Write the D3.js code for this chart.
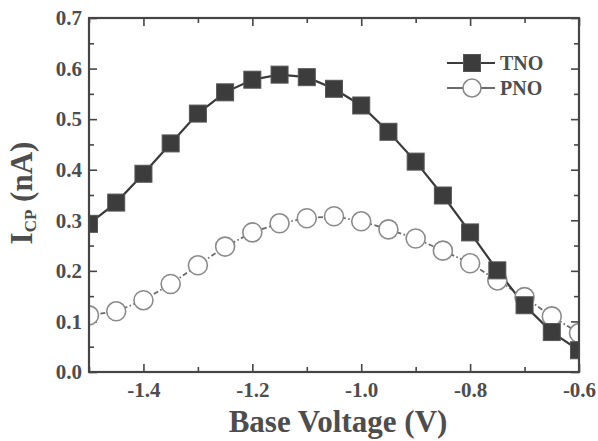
<!DOCTYPE html>
<html>
<head>
<meta charset="utf-8">
<script src="https://cdn.jsdelivr.net/npm/d3@7"></script>
<style>
body { margin: 0; background: #fff; }
svg { display: block; }
</style>
</head>
<body>
<svg id="chart" width="598" height="441"></svg>
<script>
const voltages = [-1.5, -1.45, -1.4, -1.35, -1.3, -1.25, -1.2, -1.15, -1.1, -1.05, -1.0, -0.95, -0.9, -0.85, -0.8, -0.75, -0.7, -0.65, -0.6];
const tnoValues = [0.293, 0.335, 0.392, 0.452, 0.511, 0.553, 0.578, 0.588, 0.583, 0.560, 0.527, 0.475, 0.416, 0.349, 0.276, 0.201, 0.132, 0.079, 0.043];
const pnoValues = [0.112, 0.120, 0.142, 0.174, 0.211, 0.248, 0.276, 0.294, 0.304, 0.308, 0.298, 0.282, 0.264, 0.240, 0.215, 0.181, 0.148, 0.110, 0.077];
const xMajorTicks = [-1.4, -1.2, -1.0, -0.8, -0.6];
const xMinorTicks = [-1.5, -1.3, -1.1, -0.9, -0.7];
const yMajorTicks = [0.0, 0.1, 0.2, 0.3, 0.4, 0.5, 0.6, 0.7];
const yMinorTicks = [0.05, 0.15, 0.25, 0.35, 0.45, 0.55, 0.65];
const seriesNames = ["TNO", "PNO"];

const svg = d3.select("#chart");
const L = 89, R = 579, T = 18, B = 372;
const x = d3.scaleLinear().domain([-1.5, -0.6]).range([L, R]);
const y = d3.scaleLinear().domain([0, 0.7]).range([B, T]);
const textColor = "#4d4d4d";
const axisColor = "#454545";
const font = "'Liberation Serif', 'Times New Roman', serif";

svg.append("defs").append("clipPath").attr("id", "plotclip")
  .append("rect").attr("x", L).attr("y", T).attr("width", R - L).attr("height", B - T);

function styleAxis(g) {
  g.select(".domain").remove();
  g.selectAll(".tick line").attr("stroke", axisColor).attr("stroke-width", 1.6);
  g.selectAll(".tick text").attr("fill", textColor).attr("font-family", font)
    .attr("font-weight", "bold").attr("font-size", 21);
}
const fmt = d => d3.format(".1f")(d).replace("\u2212", "-");

// bottom
svg.append("g").attr("transform", `translate(0,${B})`)
  .call(d3.axisBottom(x).tickValues(xMajorTicks).tickSize(-8).tickPadding(10).tickFormat(fmt))
  .call(styleAxis);
svg.append("g").attr("transform", `translate(0,${B})`)
  .call(d3.axisBottom(x).tickValues(xMinorTicks).tickSize(-5).tickFormat(""))
  .call(styleAxis);
// top
svg.append("g").attr("transform", `translate(0,${T})`)
  .call(d3.axisTop(x).tickValues(xMajorTicks).tickSize(-8).tickFormat(""))
  .call(styleAxis);
svg.append("g").attr("transform", `translate(0,${T})`)
  .call(d3.axisTop(x).tickValues(xMinorTicks).tickSize(-5).tickFormat(""))
  .call(styleAxis);
// left
svg.append("g").attr("transform", `translate(${L},0)`)
  .call(d3.axisLeft(y).tickValues(yMajorTicks).tickSize(-8).tickPadding(7).tickFormat(fmt))
  .call(styleAxis);
svg.append("g").attr("transform", `translate(${L},0)`)
  .call(d3.axisLeft(y).tickValues(yMinorTicks).tickSize(-5).tickFormat(""))
  .call(styleAxis);
// right
svg.append("g").attr("transform", `translate(${R},0)`)
  .call(d3.axisRight(y).tickValues(yMajorTicks).tickSize(-8).tickFormat(""))
  .call(styleAxis);
svg.append("g").attr("transform", `translate(${R},0)`)
  .call(d3.axisRight(y).tickValues(yMinorTicks).tickSize(-5).tickFormat(""))
  .call(styleAxis);

// data
const plot = svg.append("g").attr("clip-path", "url(#plotclip)");
const pnoData = voltages.map((v, i) => [v, pnoValues[i]]);
const tnoData = voltages.map((v, i) => [v, tnoValues[i]]);
const line = d3.line().x(d => x(d[0])).y(d => y(d[1]));

plot.append("path").datum(pnoData).attr("d", line).attr("fill", "none")
  .attr("stroke", "#6a6a6a").attr("stroke-width", 1.8).attr("stroke-dasharray", "5,2.5,1.5,2.5");
plot.append("path").datum(tnoData).attr("d", line).attr("fill", "none")
  .attr("stroke", "#3a3a3a").attr("stroke-width", 2.2);

const sq = 17, cr = 9.5;
plot.selectAll("circle.pno").data(pnoData).join("circle").attr("class", "pno")
  .attr("cx", d => x(d[0])).attr("cy", d => y(d[1])).attr("r", cr)
  .attr("fill", "#fff").attr("stroke", "#8a8a8a").attr("stroke-width", 1.6);
plot.selectAll("rect.tno").data(tnoData).join("rect").attr("class", "tno")
  .attr("x", d => x(d[0]) - sq / 2).attr("y", d => y(d[1]) - sq / 2)
  .attr("width", sq).attr("height", sq)
  .attr("fill", "#3c3c3c").attr("stroke", "#555").attr("stroke-width", 1);

// frame
svg.append("rect").attr("x", L).attr("y", T).attr("width", R - L).attr("height", B - T)
  .attr("fill", "none").attr("stroke", axisColor).attr("stroke-width", 2.2);

// legend
const lg = svg.append("g");
const legY = [63, 88];
lg.append("line").attr("x1", 447).attr("x2", 495).attr("y1", legY[0]).attr("y2", legY[0])
  .attr("stroke", "#3a3a3a").attr("stroke-width", 2.2);
lg.append("rect").attr("x", 472 - sq / 2).attr("y", legY[0] - sq / 2).attr("width", sq).attr("height", sq)
  .attr("fill", "#3c3c3c").attr("stroke", "#555").attr("stroke-width", 1);
lg.append("line").attr("x1", 447).attr("x2", 495).attr("y1", legY[1]).attr("y2", legY[1])
  .attr("stroke", "#6a6a6a").attr("stroke-width", 1.8);
lg.append("circle").attr("cx", 472).attr("cy", legY[1]).attr("r", 9)
  .attr("fill", "#fff").attr("stroke", "#8a8a8a").attr("stroke-width", 1.6);
lg.selectAll("text").data(seriesNames).join("text")
  .attr("x", 500).attr("y", (d, i) => legY[i] + 7)
  .attr("font-family", font).attr("font-weight", "bold").attr("font-size", 20)
  .attr("fill", textColor).text(d => d);

// axis titles
svg.append("text").attr("x", (L + R) / 2 + 4).attr("y", 432)
  .attr("text-anchor", "middle").attr("font-family", font).attr("font-weight", "bold")
  .attr("font-size", 31).attr("fill", textColor).text("Base Voltage (V)");

const yt = svg.append("text").attr("transform", "translate(32,193) rotate(-90)")
  .attr("text-anchor", "middle").attr("font-family", font).attr("font-weight", "bold")
  .attr("font-size", 31).attr("fill", textColor);
yt.append("tspan").text("I");
yt.append("tspan").attr("font-size", 17).attr("dy", 4).text("CP");
yt.append("tspan").attr("dy", -4).text(" (nA)");
</script>
</body>
</html>
